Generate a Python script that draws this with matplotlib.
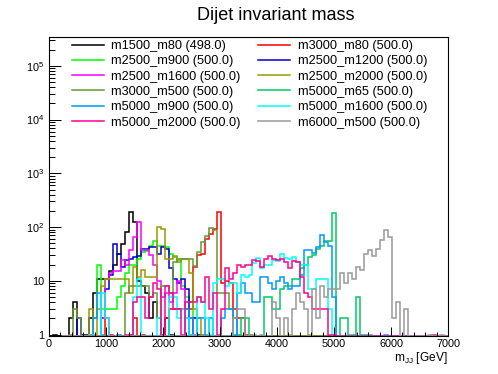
import numpy as np
import matplotlib
matplotlib.use("Agg")
import matplotlib.pyplot as plt
from matplotlib.ticker import MultipleLocator, LogLocator, FuncFormatter, NullFormatter

plt.rcParams['font.family'] = ['Liberation Sans', 'DejaVu Sans']
plt.rcParams['mathtext.fontset'] = 'custom'
plt.rcParams['mathtext.rm'] = 'Liberation Sans'
plt.rcParams['mathtext.it'] = 'Liberation Sans:italic'
plt.rcParams['mathtext.bf'] = 'Liberation Sans:bold'

# ---------------- data: 100 bins of 70 GeV from 0 to 7000 GeV ----------------
x_min, x_max, n_bins = 0, 7000, 100

m1500_m80 = [0,1,0,0,0,2,4,0,1,1,
             2,6,11,11,11,15,20,32,48,80,
             190,123,10,8,6,2,4,2,1,2,
             1,0,0,0,0,0,0,0,0,0,
             0,0,0,0,0,0,0,0,0,0,
             0,0,0,0,0,0,0,0,0,0,
             0,0,0,0,0,0,0,0,0,0,
             0,0,0,0,0,0,0,0,0,0,
             0,0,0,0,0,0,0,0,0,0,
             0,0,0,0,0,0,0,0,0,0]
m3000_m80 = [0,0,0,0,0,0,0,0,0,0,
             0,0,0,0,2,1,0,0,0,0,
             1,2,0,1,0,0,0,0,1,2,
             3,3,3,3,3,3,18,30,32,60,
             74,92,187,9,10,9,3,2,2,1,
             1,0,0,0,0,0,0,0,0,0,
             0,0,0,0,0,0,0,0,0,0,
             0,0,0,0,0,0,0,0,0,0,
             0,0,0,0,0,0,0,0,0,0,
             0,0,0,0,0,0,0,0,0,0]
m2500_m900 = [0,0,0,0,0,0,0,0,0,0,
              0,2,20,3,3,3,3,5,8,14,
              20,20,26,35,36,45,55,45,45,42,
              32,28,24,8,5,4,2,1,1,0,
              0,0,0,0,0,0,0,0,0,0,
              0,0,0,0,0,0,0,0,0,0,
              0,0,0,0,0,0,0,0,0,0,
              0,0,0,0,0,0,0,0,0,0,
              0,0,0,0,0,0,0,0,0,0,
              0,0,0,0,0,0,0,0,0,0]
m2500_m1200 = [0,0,0,0,0,0,0,2,0,0,
               1,0,0,2,7,13,48,31,18,24,
               25,28,29,39,39,42,42,31,42,39,
               17,11,9,11,7,1,2,1,0,0,
               0,0,0,0,0,0,0,0,0,0,
               0,0,0,0,0,0,0,0,0,0,
               0,0,0,0,0,0,0,0,0,0,
               0,0,0,0,0,0,0,0,0,0,
               0,0,0,0,0,0,0,0,0,0,
               0,0,0,0,0,0,0,0,0,0]
m2500_m1600 = [0,0,0,0,0,0,0,0,0,0,
               0,0,0,2,11,14,15,15,24,20,
               38,64,122,38,38,30,20,10,5,6,
               4,6,10,7,2,2,1,0,0,0,
               0,0,0,0,0,0,0,0,0,0,
               0,0,0,0,0,0,0,0,0,0,
               0,0,0,0,0,0,0,0,0,0,
               0,0,0,0,0,0,0,0,0,0,
               0,0,0,0,0,0,0,0,0,0,
               0,0,0,0,0,0,0,0,0,0]
m2500_m2000 = [0,0,0,0,0,0,0,0,0,0,
               3,1,3,8,11,11,11,11,11,11,
               6,18,12,16,12,12,12,100,92,25,
               25,29,22,25,25,14,3,2,1,0,
               0,0,0,0,0,0,0,0,0,0,
               0,0,0,0,0,0,0,0,0,0,
               0,0,0,0,0,0,0,0,0,0,
               0,0,0,0,0,0,0,0,0,0,
               0,0,0,0,0,0,0,0,0,0,
               0,0,0,0,0,0,0,0,0,0]
m3000_m500 = [0,0,0,0,0,1,3,2,0,0,
              0,0,0,0,0,0,0,0,0,6,
              8,8,8,8,8,5,6,2,8,8,
              6,22,25,25,25,26,19,34,52,69,
              95,89,6,6,6,3,2,1,0,0,
              0,0,0,0,0,0,0,0,0,0,
              0,0,0,0,0,0,0,0,0,0,
              0,0,0,0,0,0,0,0,0,0,
              0,0,0,0,0,0,0,0,0,0,
              0,0,0,0,0,0,0,0,0,0]
m5000_m65 = [0,0,0,0,0,0,0,0,0,0,
             0,0,0,0,0,0,0,0,0,0,
             0,0,0,0,0,0,0,0,0,0,
             0,0,0,0,0,0,0,0,0,0,
             0,0,0,0,0,0,0,0,2,2,
             0,0,0,0,5,5,3,3,7,8,
             8,11,11,17,20,28,30,39,45,55,
             56,180,0,2,2,1,1,5,1,1,
             1,0,0,0,0,0,0,0,0,0,
             0,0,0,0,0,0,0,0,0,0]
m5000_m900 = [0,0,0,0,0,0,0,0,0,0,
              0,2,6,1,0,0,0,1,0,0,
              0,0,0,0,0,0,0,0,0,0,
              0,0,0,0,3,2,0,2,2,1,
              2,0,0,2,3,3,1,6,9,6,
              6,4,4,12,12,9,7,10,12,9,
              7,8,8,13,38,38,33,42,70,52,
              45,5,0,0,0,0,0,0,0,0,
              0,0,0,0,1,0,0,0,0,0,
              0,0,0,0,0,0,0,0,0,0]
m5000_m1600 = [0,0,0,0,0,0,0,0,0,0,
               1,0,0,6,2,0,0,0,0,0,
               0,5,11,0,0,0,0,2,0,0,
               5,5,2,3,2,1,0,5,4,2,
               1,9,11,11,8,9,9,6,13,12,
               13,21,27,17,20,20,24,23,32,27,
               26,28,22,20,20,7,7,11,11,11,
               3,1,0,0,0,0,0,0,0,0,
               0,0,0,0,0,0,0,0,0,0,
               0,0,0,0,0,0,0,0,0,0]
m5000_m2000 = [0,0,0,0,0,0,0,0,0,0,
               0,0,0,0,0,0,0,0,0,1,
               1,4,5,5,2,5,9,7,1,8,
               6,3,3,1,4,4,4,5,4,12,
               3,6,1,3,17,11,14,20,18,20,
               20,24,23,18,26,29,26,24,26,22,
               17,23,22,12,6,5,3,3,3,3,
               1,1,0,0,0,0,0,0,0,0,
               0,0,0,0,0,0,0,0,0,0,
               0,0,0,0,0,0,1,0,0,0]
m6000_m500 = [0,0,0,0,0,0,0,0,0,0,
              0,0,0,0,0,0,0,0,0,0,
              0,0,0,0,0,0,0,0,0,0,
              0,0,0,0,0,0,0,0,0,0,
              0,0,0,0,0,0,2,3,3,0,
              1,1,0,1,0,0,4,2,0,2,
              1,3,6,4,3,1,7,2,8,5,
              7,7,7,14,9,14,11,18,16,31,
              37,29,39,58,88,64,2,4,0,3,
              0,0,0,0,0,1,0,0,1,0]

series_names = ["m1500_m80", "m3000_m80", "m2500_m900", "m2500_m1200",
                "m2500_m1600", "m2500_m2000", "m3000_m500", "m5000_m65",
                "m5000_m900", "m5000_m1600", "m5000_m2000", "m6000_m500"]
series_values = [m1500_m80, m3000_m80, m2500_m900, m2500_m1200,
                 m2500_m1600, m2500_m2000, m3000_m500, m5000_m65,
                 m5000_m900, m5000_m1600, m5000_m2000, m6000_m500]
series_entries = ["498.0", "500.0", "500.0", "500.0", "500.0", "500.0",
                  "500.0", "500.0", "500.0", "500.0", "500.0", "500.0"]
series_colors = ["#000000", "#ff0000", "#00ff00", "#0000cc",
                 "#ff00ff", "#999900", "#669933", "#00cc66",
                 "#0099ff", "#00ffff", "#ff0099", "#999999"]

# ---------------- figure ----------------
W, H = 498, 374
fig = plt.figure(figsize=(W / 100, H / 100), dpi=100)
L, R, T, B = 49, 448, 37, 336
ax = fig.add_axes([L / W, 1 - B / H, (R - L) / W, (B - T) / H])

ymin, ymax = 0.94, 3.44e5
edges = np.linspace(x_min, x_max, n_bins + 1)

handles = []
for name, vals, ent, col in zip(series_names, series_values, series_entries, series_colors):
    v = np.maximum(np.asarray(vals, dtype=float), ymin)
    ax.stairs(v, edges, baseline=None, color=col, lw=1.1)
    line, = ax.plot([], [], color=col, lw=1.1, label=f"{name} ({ent})")
    handles.append(line)

ax.set_xlim(x_min, x_max)
ax.set_yscale('log')
ax.set_ylim(ymin, ymax)

# ticks
ax.xaxis.set_major_locator(MultipleLocator(1000))
ax.xaxis.set_minor_locator(MultipleLocator(200))
ax.yaxis.set_major_locator(LogLocator(base=10, numticks=20))
ax.yaxis.set_minor_locator(LogLocator(base=10, subs=np.arange(2, 10), numticks=20))
ax.yaxis.set_minor_formatter(NullFormatter())

def yfmt(v, pos):
    e = int(round(np.log10(v)))
    if e == 0:
        return "1"
    if e == 1:
        return "10"
    return r"$\mathregular{10^{%d}}$" % e
ax.yaxis.set_major_formatter(FuncFormatter(yfmt))

ax.tick_params(axis='both', which='both', direction='in', top=False, right=False,
               width=0.72, labelsize=7.8)
ax.tick_params(axis='x', which='major', length=6.5, pad=2)
ax.tick_params(axis='x', which='minor', length=3.2)
ax.tick_params(axis='y', which='major', length=8.6, pad=3.5)
ax.tick_params(axis='y', which='minor', length=4.3)
for s in ax.spines.values():
    s.set_linewidth(0.8)

ax.text(1.0, -0.048, r"m$_{\mathregular{JJ}}$ [GeV]", transform=ax.transAxes,
        ha='right', va='top', fontsize=8.6)

fig.text(276 / W, 1 - 15 / H, "Dijet invariant mass", ha='center', va='center', fontsize=13)

# legend: two columns, ROOT row-major order
col1 = handles[0::2]
col2 = handles[1::2]
kw = dict(frameon=False, prop={'family': 'Liberation Sans', 'size': 9.2},
          handlelength=2.5, handletextpad=0.6,
          labelspacing=0.26, borderpad=0, borderaxespad=0, loc='upper left')
leg1 = ax.legend(handles=col1, bbox_to_anchor=(0.057, 0.99), **kw)
ax.add_artist(leg1)
leg2 = ax.legend(handles=col2, bbox_to_anchor=(0.5246, 0.99), **kw)

fig.savefig("out.png", dpi=100)
